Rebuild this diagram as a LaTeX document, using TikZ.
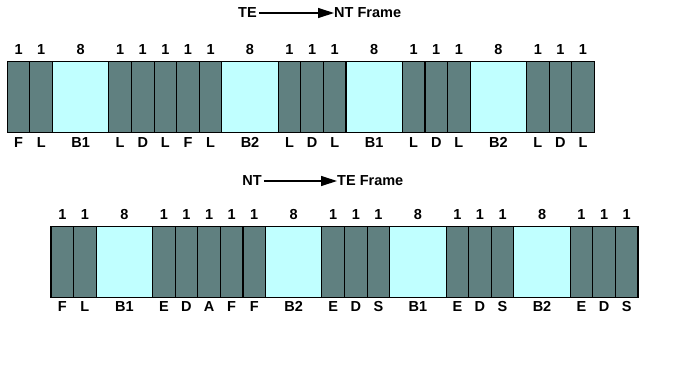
\documentclass[tikz,border=0pt]{standalone}
\usepackage{fontspec}
\setmainfont{Liberation Sans}
\usetikzlibrary{arrows.meta,positioning}
\definecolor{slotgray}{RGB}{96,128,128}
\definecolor{slotcyan}{RGB}{192,255,255}

\begin{document}
\begin{tikzpicture}[x=1pt,y=1pt,
  slot/.style={draw=black, line width=1.1pt, minimum height=71pt, inner sep=0pt, outer sep=0pt},
  bit1/.style={slot, fill=slotgray, minimum width=22.6pt},
  bit8/.style={slot, fill=slotcyan, minimum width=56.35pt},
  txt/.style={font=\bfseries\fontsize{14.5}{14.5}\selectfont, inner sep=0pt},
  flow/.style={line width=1.2pt, -{Triangle[length=16pt,width=10pt]}}
]
  \useasboundingbox (0,0) rectangle (700,-370);

  % TE -> NT frame
  \node[txt] (te1) at (247.5,-13) {TE};
  \node[txt, anchor=west] (nt1) at (334,-13) {NT Frame};
  \draw[flow] ([xshift=2pt]te1.east) -- (nt1.west);

  \coordinate (t0) at (7.3,-97.2);
  \foreach \bits/\lab [count=\i] in {1/F,1/L,8/B1,1/L,1/D,1/L,1/F,1/L,8/B2,1/L,
      1/D,1/L,8/B1,1/L,1/D,1/L,8/B2,1/L,1/D,1/L}{
    \pgfmathtruncatemacro\prev{\i-1}
    \node[bit\bits, right=0pt of t\prev] (t\i) {};
    \node[txt] (tn\i) at ([yshift=12.5pt]t\i.north) {\bits};
    \node[txt] (tl\i) at ([yshift=-10pt]t\i.south) {\lab};
  }

  % NT -> TE frame
  \node[txt] (nt2) at (252,-181) {NT};
  \node[txt, anchor=west] (te2) at (337,-181) {TE Frame};
  \draw[flow] ([xshift=2pt]nt2.east) -- (te2.west);

  \coordinate (b0) at (51,-262.2);
  \foreach \bits/\lab [count=\i] in {1/F,1/L,8/B1,1/E,1/D,1/A,1/F,1/F,8/B2,1/E,
      1/D,1/S,8/B1,1/E,1/D,1/S,8/B2,1/E,1/D,1/S}{
    \pgfmathtruncatemacro\prev{\i-1}
    \node[bit\bits, right=0pt of b\prev] (b\i) {};
    \node[txt] (bn\i) at ([yshift=12pt]b\i.north) {\bits};
    \node[txt] (bl\i) at ([yshift=-9pt]b\i.south) {\lab};
  }
\end{tikzpicture}
\end{document}
